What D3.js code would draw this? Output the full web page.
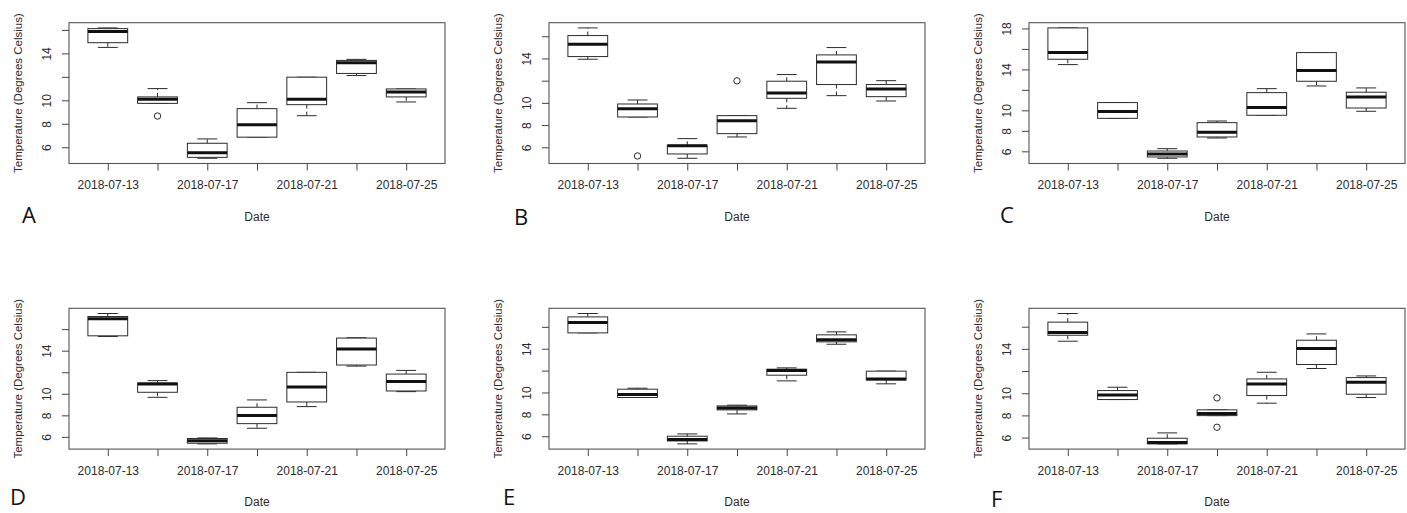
<!DOCTYPE html>
<html>
<head>
<meta charset="utf-8">
<script src="https://cdn.jsdelivr.net/npm/d3@7/dist/d3.min.js"></script>
<style>
  html, body { margin: 0; padding: 0; background: #fff; }
  svg { display: block; }
</style>
</head>
<body>
<svg id="chart" width="1407" height="513"></svg>
<script>
// Sampling dates (one box per date)
const dates = ["2018-07-13", "2018-07-15", "2018-07-17", "2018-07-19",
               "2018-07-21", "2018-07-23", "2018-07-25"];
// Only every other date gets a printed label
const labelledDates = ["2018-07-13", "2018-07-17", "2018-07-21", "2018-07-25"];

// Box statistics per panel: [lower whisker, Q1, median, Q3, upper whisker]
const panelA = [
  [14.51, 14.91, 15.86, 16.11, 16.17],
  [9.74, 9.74, 10.09, 10.29, 11.00],
  [5.06, 5.14, 5.54, 6.34, 6.71],
  [6.86, 6.86, 7.91, 9.29, 9.80],
  [8.69, 9.63, 10.09, 11.97, 11.97],
  [12.11, 12.29, 13.20, 13.40, 13.49],
  [9.86, 10.29, 10.71, 10.97, 10.97]
];
const panelB = [
  [13.93, 14.17, 15.28, 16.06, 16.75],
  [8.73, 8.73, 9.48, 9.90, 10.26],
  [5.01, 5.40, 6.15, 6.18, 6.78],
  [6.93, 7.23, 8.40, 8.85, 8.85],
  [9.51, 10.41, 10.89, 11.95, 12.55],
  [10.65, 11.65, 13.69, 14.32, 14.98],
  [10.17, 10.56, 11.26, 11.65, 12.00]
];
const panelC = [
  [14.47, 14.99, 15.64, 18.05, 18.05],
  [9.22, 9.22, 9.88, 10.76, 10.76],
  [5.32, 5.45, 5.74, 6.03, 6.26],
  [7.30, 7.40, 7.86, 8.80, 8.96],
  [9.52, 9.52, 10.27, 11.73, 12.12],
  [12.38, 12.84, 13.88, 15.64, 15.64],
  [9.91, 10.23, 11.31, 11.77, 12.19]
];
const panelD = [
  [15.32, 15.38, 16.96, 17.17, 17.45],
  [9.67, 10.14, 10.91, 11.00, 11.22],
  [5.35, 5.41, 5.63, 5.85, 5.90],
  [6.80, 7.23, 7.98, 8.75, 9.43],
  [8.81, 9.24, 10.63, 11.99, 11.99],
  [12.57, 12.67, 14.15, 15.17, 15.20],
  [10.20, 10.26, 11.15, 11.83, 12.17]
];
const panelE = [
  [15.45, 15.45, 16.40, 16.91, 17.22],
  [9.54, 9.54, 9.81, 10.30, 10.39],
  [5.30, 5.57, 5.70, 6.00, 6.21],
  [8.04, 8.41, 8.59, 8.77, 8.84],
  [11.06, 11.58, 12.00, 12.13, 12.25],
  [14.41, 14.63, 14.81, 15.27, 15.54],
  [10.79, 11.15, 11.24, 11.95, 11.95]
];
const panelF = [
  [14.69, 15.23, 15.47, 16.41, 17.19],
  [9.43, 9.43, 9.85, 10.24, 10.54],
  [5.43, 5.43, 5.55, 5.94, 6.42],
  [7.98, 7.98, 8.17, 8.50, 8.50],
  [9.10, 9.79, 10.84, 11.29, 11.89],
  [12.23, 12.59, 14.03, 14.78, 15.35],
  [9.61, 9.91, 10.99, 11.41, 11.56]
];

// Outlying points per panel: [date index, temperature]
const outliersA = [[1, 8.66]];
const outliersB = [[1, 5.22], [3, 11.98]];
const outliersC = [];
const outliersD = [];
const outliersE = [];
const outliersF = [[3, 9.58], [3, 6.93]];

// Y axis ticks and the subset that carries a label
const yTicksStd = [6, 8, 10, 12, 14, 16];
const yLabelsStd = [6, 8, 10, 14];
const yTicksC = [6, 8, 10, 12, 14, 16, 18];
const yLabelsC = [6, 8, 10, 14, 18];

const panelLetters = ["A", "B", "C", "D", "E", "F"];

const panels = [
  { letter: panelLetters[0], stats: panelA, outliers: outliersA, ticks: yTicksStd, labels: yLabelsStd },
  { letter: panelLetters[1], stats: panelB, outliers: outliersB, ticks: yTicksStd, labels: yLabelsStd },
  { letter: panelLetters[2], stats: panelC, outliers: outliersC, ticks: yTicksC,   labels: yLabelsC },
  { letter: panelLetters[3], stats: panelD, outliers: outliersD, ticks: yTicksStd, labels: yLabelsStd },
  { letter: panelLetters[4], stats: panelE, outliers: outliersE, ticks: yTicksStd, labels: yLabelsStd },
  { letter: panelLetters[5], stats: panelF, outliers: outliersF, ticks: yTicksStd, labels: yLabelsStd }
];

// ---- layout ----
const plotLefts = [69, 549, 1029];
const plotTops = [22.7, 308.3];
const plotW = 376;
const plotH = 140.8;
// panel letter anchors (x, baseline y)
const letterPos = [[22, 223], [514, 225], [1000, 223], [10, 505], [503, 505], [991, 507]];

const FONT = "'Liberation Sans', Arial, Helvetica, sans-serif";
const INK = "#2b2b2b";

const svg = d3.select("#chart");

panels.forEach((p, k) => {
  const left = plotLefts[k % 3];
  const top = plotTops[Math.floor(k / 3)];
  const bottom = top + plotH;
  const right = left + plotW;

  // y range: all data values, padded by 4% on each side
  const allVals = p.stats.flat().concat(p.outliers.map(o => o[1]));
  const [lo, hi] = d3.extent(allVals);
  const pad = (hi - lo) * 0.04;
  const y = d3.scaleLinear().domain([lo - pad, hi + pad]).range([bottom, top]);

  // x: boxes sit at 1..n, range 0.5..n+0.5 padded by 4%
  const n = dates.length;
  const x = d3.scaleLinear()
    .domain([0.5 - 0.04 * n, n + 0.5 + 0.04 * n])
    .range([left, right]);

  const g = svg.append("g");

  // frame
  g.append("rect")
    .attr("x", left).attr("y", top)
    .attr("width", plotW).attr("height", plotH)
    .attr("fill", "none").attr("stroke", "#555").attr("stroke-width", 1.1);

  // x axis
  const xAxis = d3.axisBottom(x)
    .tickValues(d3.range(1, n + 1))
    .tickSize(7)
    .tickPadding(10)
    .tickFormat(d => labelledDates.includes(dates[d - 1]) ? dates[d - 1] : "");
  const gx = g.append("g")
    .attr("transform", `translate(0,${bottom})`)
    .call(xAxis);
  gx.select(".domain").remove();
  gx.selectAll("line").attr("stroke", "#444");
  gx.selectAll("text")
    .attr("fill", INK)
    .style("font-family", FONT)
    .style("font-size", "12px");

  // y axis with labels turned parallel to the axis
  const yAxis = d3.axisLeft(y)
    .tickValues(p.ticks)
    .tickSize(7)
    .tickFormat(d => p.labels.includes(d) ? String(d) : "");
  const gy = g.append("g")
    .attr("transform", `translate(${left},0)`)
    .call(yAxis);
  gy.select(".domain").remove();
  gy.selectAll("line").attr("stroke", "#444");
  gy.selectAll("text")
    .attr("x", 0).attr("y", -22).attr("dy", null)
    .attr("transform", "rotate(-90)")
    .attr("text-anchor", "middle")
    .attr("dominant-baseline", "central")
    .attr("fill", INK)
    .style("font-family", FONT)
    .style("font-size", "12px");

  // boxes
  const boxHalf = 0.4, stapleHalf = 0.2;
  const boxes = g.selectAll(".box").data(p.stats).join("g").attr("class", "box");

  // dashed whiskers
  boxes.append("line")
    .attr("x1", (d, i) => x(i + 1)).attr("x2", (d, i) => x(i + 1))
    .attr("y1", d => y(d[3])).attr("y2", d => y(d[4]))
    .attr("stroke", INK).attr("stroke-width", 1).attr("stroke-dasharray", "4,3");
  boxes.append("line")
    .attr("x1", (d, i) => x(i + 1)).attr("x2", (d, i) => x(i + 1))
    .attr("y1", d => y(d[1])).attr("y2", d => y(d[0]))
    .attr("stroke", INK).attr("stroke-width", 1).attr("stroke-dasharray", "4,3");
  // staples
  [0, 4].forEach(j => {
    boxes.append("line")
      .attr("x1", (d, i) => x(i + 1 - stapleHalf)).attr("x2", (d, i) => x(i + 1 + stapleHalf))
      .attr("y1", d => y(d[j])).attr("y2", d => y(d[j]))
      .attr("stroke", INK).attr("stroke-width", 1);
  });
  // box body
  boxes.append("rect")
    .attr("x", (d, i) => x(i + 1 - boxHalf))
    .attr("width", (d, i) => x(i + 1 + boxHalf) - x(i + 1 - boxHalf))
    .attr("y", d => y(d[3]))
    .attr("height", d => Math.max(0.5, y(d[1]) - y(d[3])))
    .attr("fill", "#fff").attr("stroke", INK).attr("stroke-width", 1);
  // median
  boxes.append("line")
    .attr("x1", (d, i) => x(i + 1 - boxHalf)).attr("x2", (d, i) => x(i + 1 + boxHalf))
    .attr("y1", d => y(d[2])).attr("y2", d => y(d[2]))
    .attr("stroke", "#111").attr("stroke-width", 3);

  // outliers
  g.selectAll(".out").data(p.outliers).join("circle")
    .attr("class", "out")
    .attr("cx", d => x(d[0] + 1)).attr("cy", d => y(d[1]))
    .attr("r", 3.2)
    .attr("fill", "none").attr("stroke", INK).attr("stroke-width", 1);

  // axis titles
  g.append("text")
    .attr("x", (left + right) / 2).attr("y", bottom + 53)
    .attr("text-anchor", "middle").attr("dominant-baseline", "central")
    .attr("fill", INK)
    .style("font-family", FONT).style("font-size", "12px")
    .text("Date");
  g.append("text")
    .attr("transform", `translate(${left - 51},${(top + bottom) / 2}) rotate(-90)`)
    .attr("text-anchor", "middle").attr("dominant-baseline", "central")
    .attr("fill", INK)
    .style("font-family", FONT).style("font-size", "11.5px")
    .text("Temperature (Degrees Celsius)");

  // panel letter
  g.append("text")
    .attr("x", letterPos[k][0]).attr("y", letterPos[k][1])
    .attr("fill", "#111")
    .style("font-family", "'Open Sans', 'Noto Sans', sans-serif")
    .style("font-size", "22px")
    .text(p.letter);
});
</script>
</body>
</html>
